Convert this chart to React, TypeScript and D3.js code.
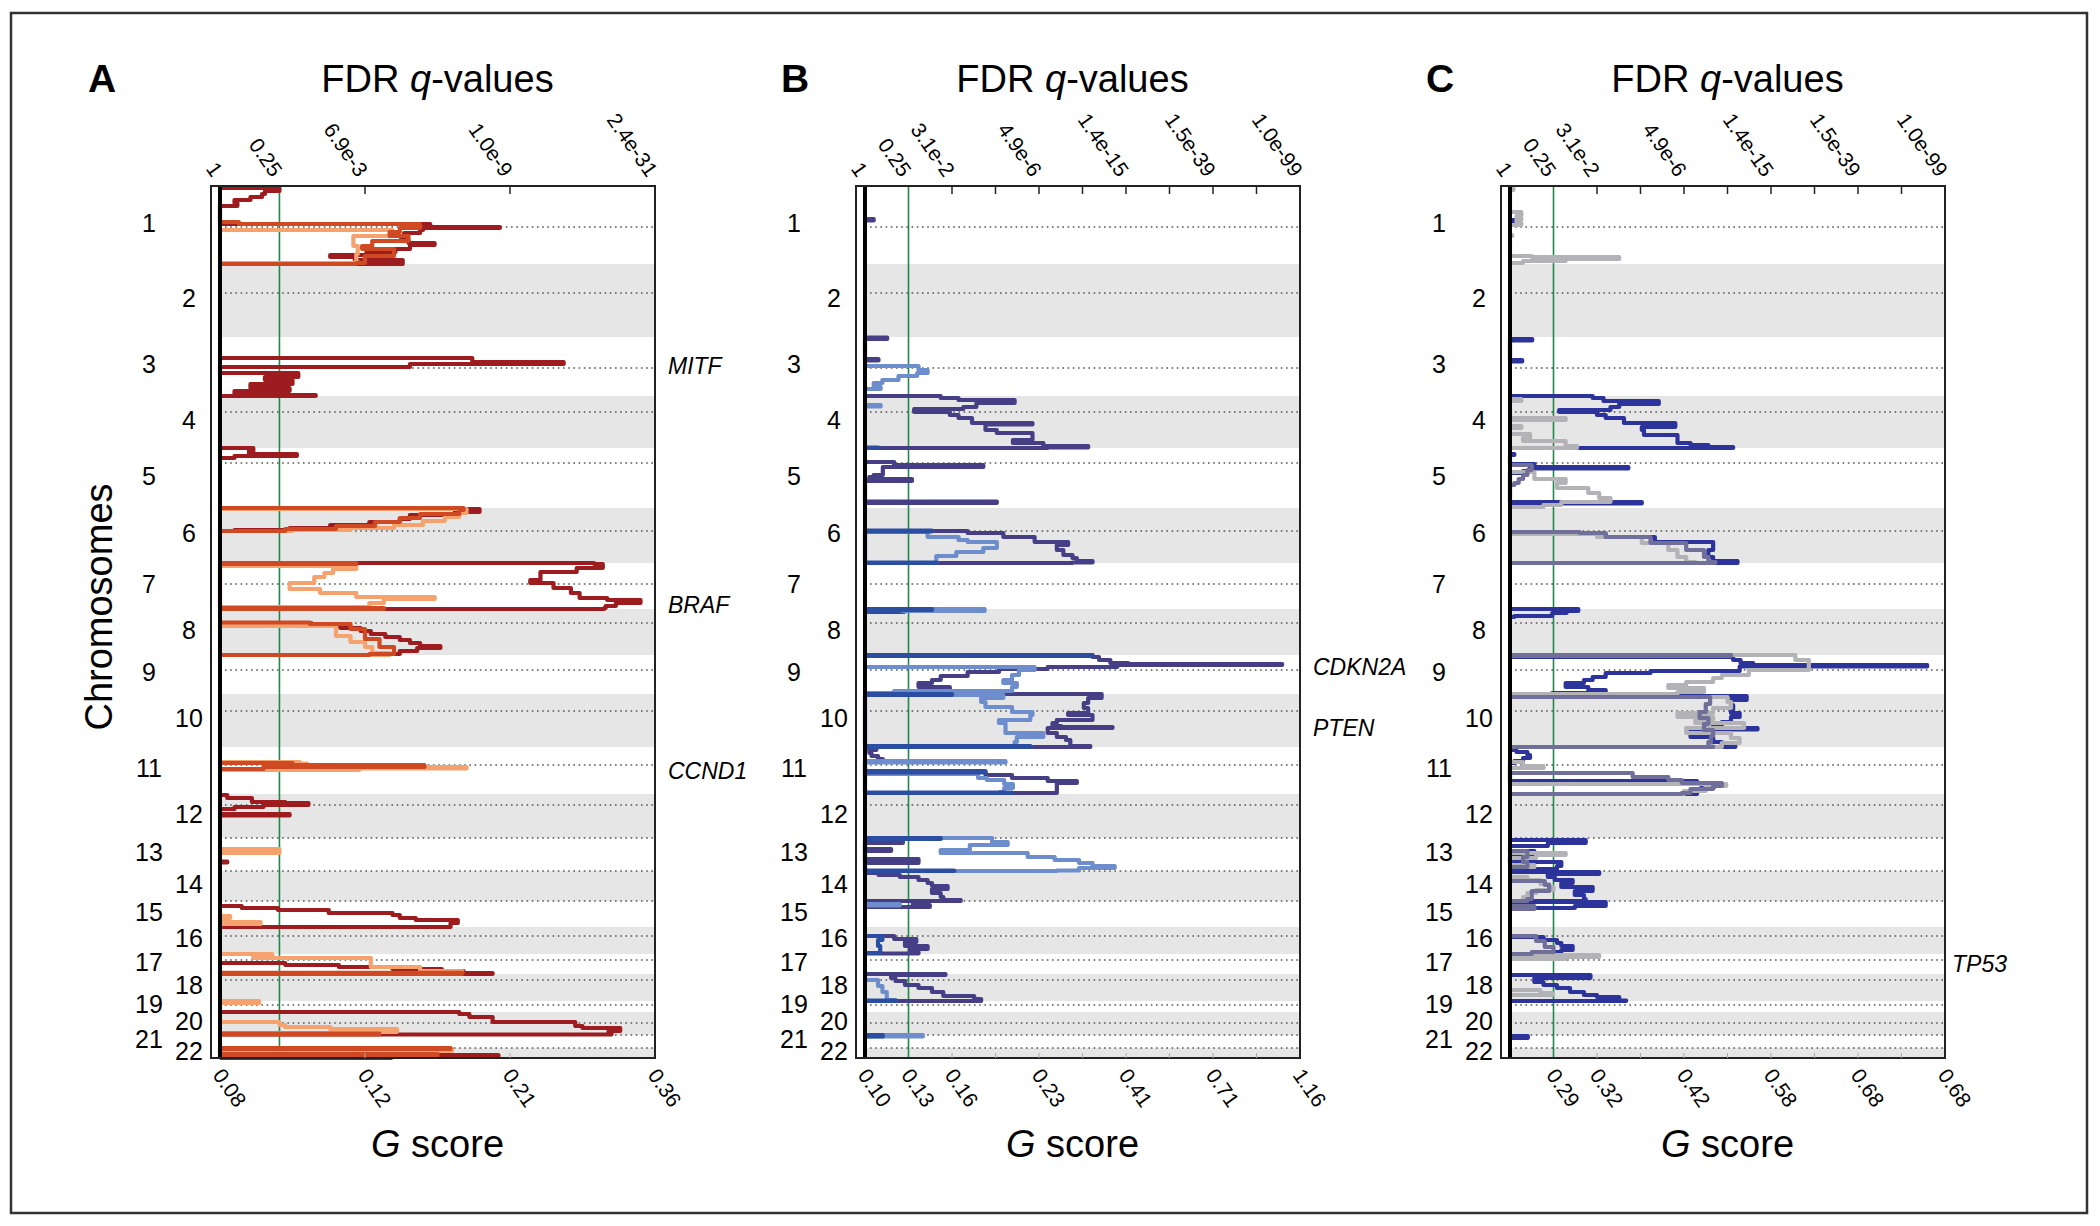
import React from 'react';
import * as d3 from 'd3';

// chromosome extents as laid out on the genome axis (relative units)
const chromosomes = d3.range(1, 23).map(String);
const chrSize = [78, 73, 59, 52, 60, 55, 46, 46, 39, 53, 47, 44, 33, 30, 26, 27, 20, 27, 11, 23, 13, 10];
const centromere = [41, 29, 31, 16, 15, 23, 21, 14, 15, 17, 18, 11, 0, 0, 0, 9, 6, 6, 4, 11, 0, 0];

type Seg = [number, [number, number][]];

// ---- panel A (scores in axis slots 0..3) ----
const aQPos = [0, 0.41, 1, 2, 3];
const aQLabels = ['1', '0.25', '6.9e-3', '1.0e-9', '2.4e-31'];
const aGPos = [0, 1, 2, 3];
const aGLabels = ['0.08', '0.12', '0.21', '0.36'];
const aGenes: [string, number, number][] = [['MITF', 3, 29], ['BRAF', 7, 42], ['CCND1', 11, 24]];

const aDark: Seg[] = [
  [1, [[2, 0.41], [5, 0.31], [8, 0.29], [11, 0.21], [14, 0.1], [17, 0.12], [20, 0], [38, 1.45], [41, 1.93], [42, 1.4], [44, 1.38], [47, 1.27], [51, 1.25], [54, 1.3], [57, 1.48], [59, 1.31], [63, 1.21], [66, 1.01], [69, 0.76], [71, 0.93], [74, 1.26], [78, 0]]],
  [3, [[21, 1.74], [25, 2.37], [27, 1.31], [30, 0], [36, 0.54], [40, 0.31], [43, 0.5], [47, 0.21], [51, 0.48], [54, 0.1], [58, 0.66], [59, 0]]],
  [5, [[0, 0.23], [3, 0.2], [6, 0.53], [8, 0.1], [10, 0]]],
  [6, [[1, 1.79], [4, 1.62], [7, 1.31], [11, 1.24], [14, 1.03], [17, 0.76], [20, 0.48], [22, 0.1], [23, 0]]],
  [7, [[0, 2.58], [1, 2.64], [5, 2.46], [9, 2.21], [17, 2.14], [20, 2.3], [25, 2.42], [30, 2.48], [35, 2.67], [37, 2.9], [40, 2.73], [43, 2.66], [45, 2.65], [46, 0]]],
  [8, [[14, 0.63], [16, 0.83], [19, 0.97], [22, 1.04], [25, 1.14], [28, 1.24], [31, 1.31], [34, 1.38], [37, 1.52], [39, 1.36], [42, 1.24], [45, 1.14], [46, 0]]],
  [12, [[1, 0.05], [4, 0.22], [8, 0.45], [9, 0.61], [11, 0.3], [13, 0.1], [15, 0], [20, 0.48], [21.5, 0]]],
  [13, [[23.5, 0.05], [24.5, 0]]],
  [15, [[5, 0.15], [7, 0.4], [9, 0.75], [12, 1.19], [14, 1.24], [17, 1.35], [19, 1.64], [22, 1.59], [25, 1.59], [26, 0]]],
  [17, [[9, 0.45], [11, 0.82], [13, 1.19], [15, 1.53], [17, 1.68], [19, 1.88], [20, 0]]],
  [20, [[0, 1.65], [2, 1.72], [5, 1.88], [9, 1.88], [10, 2.45], [14, 2.5], [16, 2.76], [19, 2.68], [21.5, 2.7], [22.5, 0]]],
  [22, [[2, 1.3], [4, 1.5], [7, 1.92], [8.5, 1.18], [10, 0]]],
];
const aLight: Seg[] = [
  [1, [[44, 1.19], [50, 0.92], [60, 0.95], [68, 0.94], [76, 0.95], [77, 0]]],
  [6, [[1, 1.7], [5, 1.65], [9, 1.55], [13, 1.4], [17, 1.2], [20, 0.9], [22, 0.5], [23, 0]]],
  [7, [[3, 0.94], [6, 0.78], [10, 0.72], [14, 0.65], [20, 0.48], [26, 0.69], [30, 0.94], [34, 1.48], [36, 1.13], [40, 1.03], [44, 0]]],
  [8, [[17, 0.8], [27, 0.9], [33, 1.0], [38, 1.05], [44, 1.17], [46, 0]]],
  [11, [[15, 0.55], [16.5, 0.6], [20, 1.7], [21.5, 0.96], [23, 0]]],
  [13, [[11, 0.41], [15, 0]]],
  [15, [[15, 0.07], [17, 0], [21, 0.28], [23, 0]]],
  [17, [[0, 0.36], [2, 0.23], [4, 1.04], [9, 1.04], [13, 1.38], [17, 1.67], [19, 0]]],
  [19, [[0, 0.27], [2, 0]]],
  [20, [[10, 0.41], [13, 0.45], [15, 0.76], [17, 1.22], [20, 1.08], [21, 0]]],
  [22, [[1, 1.6], [3, 0]]],
];
const aMid: Seg[] = [
  [1, [[36, 0.13], [38, 1.38], [42, 1.24], [46, 1.17], [50, 1.3], [55, 1.05], [60, 0.98], [63, 1.2], [70, 1.0], [77, 0.94], [78, 0]]],
  [6, [[0, 1.68], [2, 1.65], [6, 1.38], [10, 1.24], [14, 1.07], [18, 0.8], [21, 0.45], [23, 0]]],
  [7, [[0, 0.94], [1, 0], [45, 1.13], [46, 0]]],
  [8, [[13.5, 0.62], [15, 0.9], [20, 1.0], [30, 1.1], [38, 1.2], [45, 1.03], [46, 0]]],
  [11, [[16, 0.5], [18, 1.41], [20, 0.3], [22, 0]]],
  [17, [[18.8, 1.67], [20, 0]]],
  [20, [[21.5, 1.1], [22.5, 0]]],
  [22, [[0, 1.59], [1, 0], [6, 1.5], [8, 0]]],
];

// ---- panel B (slots 0..10) ----
const bQPos = [0, 1, 2, 4, 6, 8, 10];
const bQLabels = ['1', '0.25', '3.1e-2', '4.9e-6', '1.4e-15', '1.5e-39', '1.0e-99'];
const bGPos = [0, 1, 2, 4, 6, 8, 10];
const bGLabels = ['0.10', '0.13', '0.16', '0.23', '0.41', '0.71', '1.16'];
const bGenes: [string, number, number][] = [['CDKN2A', 9, 12], ['PTEN', 10, 34]];

const bDark: Seg[] = [
  [1, [[33, 0.2], [34.5, 0]]],
  [3, [[0.5, 0.51], [2, 0], [22, 0.31], [23.5, 0]]],
  [4, [[0, 1.74], [2, 2.15], [4, 3.44], [7, 2.56], [11, 2.26], [13, 1.13], [16, 1.95], [19, 2.15], [22, 2.46], [27, 3.85], [28.5, 2.77], [34, 3.03], [37, 3.85], [41, 3.85], [44, 3.4], [47, 4.1], [50, 5.13], [51.5, 4.2], [52, 0]]],
  [5, [[14, 0.67], [17, 2.72], [19, 0.41], [24, 0.41], [27, 0.2], [29, 0.1], [31, 1.08], [33, 0], [53.5, 3.03], [55, 0]]],
  [6, [[23, 2.36], [25, 3.18], [29, 3.9], [34, 4.67], [37, 4.41], [42, 4.56], [47, 4.77], [50, 4.87], [53, 5.23], [54.5, 4.77], [55, 0]]],
  [8, [[1, 0.9], [3, 0]]],
  [9, [[0, 5.23], [2, 5.38], [5, 5.64], [8, 6.05], [9, 9.59], [10, 5.8], [12, 4.2], [14, 3.08], [17, 2.36], [21, 1.74], [25, 1.54], [28, 1.23], [32, 1.95], [36, 1.03], [38, 0]]],
  [10, [[0, 5.44], [4, 5.13], [9, 5.03], [14, 5.13], [19, 4.67], [21, 5.23], [26, 4.41], [29, 4.31], [32, 4.51], [33, 5.69], [34, 4.2], [39, 4.41], [43, 4.62], [46, 4.72], [49, 4.72], [52, 5.18], [53, 0]]],
  [11, [[1, 0.26], [3, 0.1], [6, 0.15], [9, 0.3], [12, 0.41], [14, 0], [25, 2.77], [28, 3.38], [31, 4.2], [34, 4.87], [36, 4.41], [40, 4.41], [44, 4.41], [46, 0]]],
  [13, [[2, 0.87], [5, 0], [11, 0.6], [13, 0], [21, 1.23], [25, 0]]],
  [14, [[2, 0.31], [4, 0.8], [6, 1.23], [9, 1.44], [12, 1.54], [15, 1.9], [18, 1.54], [22, 1.74], [26, 1.8], [29, 2.2], [30, 0]]],
  [15, [[0, 1.3], [2, 1.1], [4, 1.49], [6, 0]]],
  [16, [[9, 0.67], [12, 1.18], [15, 0.92], [19, 1.44], [22, 1.03], [25, 1.23], [26.5, 0]]],
  [18, [[0, 1.85], [1, 0.6], [4, 0.7], [7, 0.92], [11, 1.23], [14, 1.54], [18, 1.8], [22, 2.51], [25, 2.67], [27, 0]]],
];
const bLight: Seg[] = [
  [3, [[29, 1.23], [33, 1.44], [36, 1.2], [39, 0.77], [43, 0.4], [46, 0.2], [50, 0.36], [52, 0]]],
  [4, [[9, 0.36], [10.5, 0]]],
  [6, [[24, 1.44], [29, 2.15], [32, 2.36], [34, 3.03], [40, 2.72], [44, 2.1], [48, 1.64], [55, 0]]],
  [8, [[0, 2.75], [2, 0]]],
  [9, [[12, 3.9], [15, 3.54], [20, 3.38], [25, 3.18], [28, 3.49], [32, 3.38], [36, 0.67], [38, 0]]],
  [10, [[1, 3.18], [4, 2.67], [8, 2.77], [13, 3.38], [18, 3.85], [21, 3.8], [26, 3.08], [29, 3.23], [34, 3.23], [39, 4.1], [43, 3.49], [48, 3.44], [52, 3.8], [53, 0]]],
  [11, [[14, 3.23], [15.5, 0], [27, 2.6], [31, 2.8], [33, 3.2], [37, 3.4], [41, 3.2], [45, 3.1], [46, 0]]],
  [13, [[0, 2.92], [4, 3.28], [7, 2.41], [12, 1.74], [15, 3.74], [19, 4.36], [22, 4.92], [25, 5.23], [28, 5.74], [30, 4.92], [32.5, 4.41], [33, 0]]],
  [15, [[3, 0.8], [4.5, 0]]],
  [18, [[6, 0.3], [12, 0.4], [18, 0.5], [26, 0.7], [27, 0]]],
  [21, [[0, 1.33], [1.5, 0]]],
];
const bMid: Seg[] = [
  [4, [[51.5, 0.31], [52, 0]]],
  [6, [[22.5, 1.54], [23.5, 0], [54.5, 1.64], [55, 0]]],
  [8, [[0, 1.54], [1, 0.8], [2, 0.3], [3, 0]]],
  [9, [[0, 5.23], [1, 0]]],
  [10, [[0, 2.0], [1, 0], [52, 3.8], [53, 0]]],
  [11, [[24, 2.77], [25.5, 0], [45.5, 3.38], [46, 0]]],
  [13, [[0, 1.74], [1, 0], [32.5, 2.05], [33, 0]]],
  [16, [[9, 0.4], [13, 0.3], [19, 0.35], [26, 0]]],
  [18, [[26.5, 0.72], [27, 0]]],
  [21, [[0, 0.41], [1.5, 0]]],
];

// ---- panel C (slots 0..10) ----
const cQPos = [0, 1, 2, 4, 6, 8, 10];
const cQLabels = ['1', '0.25', '3.1e-2', '4.9e-6', '1.4e-15', '1.5e-39', '1.0e-99'];
const cGPos = [1, 2, 4, 6, 8, 10];
const cGLabels = ['0.29', '0.32', '0.42', '0.58', '0.68', '0.68'];
const cGenes: [string, number, number][] = [['TP53', 17, 10]];

const cBlue: Seg[] = [
  [1, [[34, 0.18], [35, 0]]],
  [3, [[2, 0.51], [3.5, 0], [23, 0.28], [24.5, 0]]],
  [4, [[0, 1.9], [2, 2.15], [5, 3.42], [8, 2.51], [11, 2.31], [14, 1.13], [16, 2.0], [19, 2.2], [22, 2.62], [27, 3.8], [31, 3.03], [34, 3.08], [39, 3.85], [44, 3.85], [47, 4.15], [49, 4.56], [51, 5.13], [52, 0]]],
  [5, [[6, 0.1], [7, 0], [16, 0.56], [19, 2.72], [20.5, 0.45], [23, 0.3], [25, 0], [54, 3.03], [55.5, 0]]],
  [6, [[26, 2.2], [29, 3.33], [34, 4.67], [42, 4.56], [49, 4.67], [53, 5.23], [55, 0]]],
  [8, [[0, 1.57], [2, 1.3], [4, 0.97], [7, 0.1], [8, 0]]],
  [9, [[2, 5.13], [5, 5.3], [8, 5.59], [10, 9.59], [11.5, 5.28], [16, 3.23], [18, 2.2], [22, 1.9], [25, 1.7], [28, 1.28], [32, 1.8], [35, 2.2], [38, 0.97], [39, 0]]],
  [10, [[2, 5.44], [6, 5.08], [11, 5.13], [16, 5.08], [19, 5.28], [23, 5.08], [28, 4.87], [31, 4.67], [34, 5.69], [35.5, 4.15], [43, 4.67], [48, 4.87], [52, 5.18], [53, 0]]],
  [11, [[3, 0.15], [5, 0.4], [8, 0.46], [11, 0.3], [14, 0.1], [16, 0], [34, 4.3], [37, 4.7], [40, 4.4], [44, 4.3], [47, 0]]],
  [13, [[2, 1.74], [5, 0.87], [8, 0], [13, 0.56], [16, 0.3], [19, 0], [24, 1.18], [28, 1.08], [31, 0.3], [33, 0]]],
  [14, [[1, 2.05], [3, 0.87], [6, 1.03], [9, 1.44], [12, 1.18], [16, 1.9], [20, 1.49], [24, 1.7], [28, 1.74], [30, 0]]],
  [15, [[1, 2.2], [5, 1.49], [7, 0]]],
  [16, [[10, 0.77], [13, 1.08], [16, 1.18], [19, 1.44], [23, 1.18], [25, 0.87], [27, 0]]],
  [18, [[1, 1.85], [4, 0.56], [8, 0.77], [11, 1.08], [14, 1.38], [18, 1.7], [21, 2.0], [23, 2.51], [25, 2.31], [26.5, 2.67], [27, 0]]],
  [21, [[1, 0.41], [3, 0]]],
];
const cGrey: Seg[] = [
  [1, [[2, 0.08], [4, 0], [26, 0.26], [30, 0.15], [32, 0.26], [34, 0.15], [37, 0.26], [39, 0], [49, 0.05], [50, 0], [70, 0.5], [71, 2.51], [73, 1.28], [75, 0.3], [77, 0]]],
  [4, [[3, 0.26], [5, 0], [22, 1.28], [24, 0], [30, 0.26], [32, 0], [38, 0.46], [42, 0.3], [45, 1.28], [50, 1.54], [52, 0]]],
  [5, [[24, 0.56], [31, 1.28], [35, 1.08], [40, 1.8], [45, 2.05], [50, 2.31], [54, 1.18], [57, 0.77], [59, 0]]],
  [6, [[26, 2.0], [29, 3.03], [35, 3.64], [42, 3.85], [49, 4.05], [54, 4.26], [55, 0]]],
  [9, [[0, 6.56], [2, 6.56], [5, 6.87], [11, 6.87], [15, 5.49], [20, 4.87], [23, 4.67], [27, 4.05], [30, 3.64], [33, 4.46], [37, 3.85], [39, 0]]],
  [10, [[3, 5.0], [8, 5.08], [14, 4.67], [19, 3.85], [23, 4.67], [26, 4.26], [29, 5.38], [34, 4.05], [39, 5.08], [44, 5.28], [49, 4.87], [53, 0]]],
  [11, [[15, 0.3], [19, 0.77], [21, 0], [37, 4.97], [39, 4.5], [44, 4.0], [47, 0]]],
  [13, [[15, 1.28], [17, 0.6], [20, 0], [27, 0.56], [29, 0]]],
  [14, [[6, 0.4], [9, 0.7], [13, 0.9], [16, 1.0], [19, 0.6], [22, 0.4], [26, 0.3], [30, 0]]],
  [17, [[1, 2.05], [3, 1.28], [5, 0]]],
  [18, [[16, 0.7], [19, 0.97], [21, 0]]],
];
const cSlate: Seg[] = [
  [5, [[17, 0.5], [22, 0.4], [27, 0.3], [31, 0.2], [35, 0.1], [37, 0]]],
  [6, [[24, 1.6], [25, 2.2], [29, 3.23], [35, 4.05], [42, 4.46], [49, 4.56], [54, 4.72], [55, 0]]],
  [9, [[0, 5.08], [1, 0]]],
  [10, [[3, 4.6], [10, 4.5], [18, 4.36], [24, 4.56], [30, 4.46], [36, 4.67], [42, 4.62], [48, 4.56], [52.5, 4.67], [53, 0]]],
  [11, [[26, 2.82], [30, 3.64], [33, 3.95], [36, 4.87], [39, 4.67], [42, 4.15], [46, 3.95], [47, 0]]],
  [13, [[13, 0.4], [19, 0.3], [24, 0.4], [29, 0]]],
  [14, [[10, 0.8], [14, 0.9], [20, 0.5], [28, 0.4], [30, 0]]],
  [15, [[5, 0.56], [8, 0]]],
  [16, [[9, 0.6], [14, 0.8], [20, 1.0], [25, 0.5], [27, 0]]],
];

const panels = [
  { letter: 'A', letterDx: -118, titleDx: 0, geneDx: 13, max: 3, threshold: 0.41, qPos: aQPos, qLabels: aQLabels, gPos: aGPos, gLabels: aGLabels, genes: aGenes,
    series: [{ data: aDark, color: '#9c1c1f' }, { data: aLight, color: '#f5a26e' }, { data: aMid, color: '#cf4a22' }] },
  { letter: 'B', letterDx: -70, titleDx: -10, geneDx: 13, max: 10, threshold: 1, qPos: bQPos, qLabels: bQLabels, gPos: bGPos, gLabels: bGLabels, genes: bGenes,
    series: [{ data: bDark, color: '#463f86' }, { data: bLight, color: '#6e8dcc' }, { data: bMid, color: '#2b4ea3' }] },
  { letter: 'C', letterDx: -70, titleDx: 0, geneDx: 7, max: 10, threshold: 1, qPos: cQPos, qLabels: cQLabels, gPos: cGPos, gLabels: cGLabels, genes: cGenes,
    series: [{ data: cBlue, color: '#2c349c' }, { data: cGrey, color: '#b3b3b7' }, { data: cSlate, color: '#6f6f99' }] },
];

const width = 2100;
const height = 1226;
const plotTop = 186;
const plotBottom = 1058;
const plotW = 435;
const firstBase = 220;
const panelStep = 645;
const font = 'Liberation Sans, Arial, sans-serif';

const chrStart = chrSize.map((_, i) => d3.sum(chrSize.slice(0, i)));
const y = d3.scaleLinear().domain([0, d3.sum(chrSize)]).range([plotTop, plotBottom]);

function Panel({ p, idx }: { p: typeof panels[number]; idx: number }) {
  const base = firstBase + idx * panelStep;
  const x = d3.scaleLinear().domain([0, p.max]).range([base, base + plotW]);
  const right = x(p.max);
  const mid = (base + right) / 2 + p.titleDx;
  const tickMarks = d3.range(1, p.max).filter(v => v !== p.threshold);

  const pathFor = (chr: number, pts: [number, number][]) => {
    const s = chrStart[chr - 1];
    const line = d3.line<[number, number]>()
      .x(d => x(d[1]))
      .y(d => y(s + d[0]))
      .curve(d3.curveStepBefore);
    return line([[pts[0][0], 0], ...pts]) || '';
  };

  return (
    <g>
      {chromosomes.map((c, i) => i % 2 === 1 ? (
        <rect key={'band' + c} x={base + 2} y={y(chrStart[i])} width={right - base - 2}
          height={y(chrStart[i] + chrSize[i]) - y(chrStart[i])} fill="#e6e6e6" />
      ) : null)}
      {chromosomes.map((c, i) => (
        <line key={'cen' + c} x1={base + 5} x2={right - 2}
          y1={y(chrStart[i] + centromere[i])} y2={y(chrStart[i] + centromere[i])}
          stroke="#555" strokeWidth={1.4} strokeDasharray="1.6,3.6" />
      ))}
      <line x1={x(p.threshold)} x2={x(p.threshold)} y1={plotTop} y2={plotBottom} stroke="#21884a" strokeWidth={1.6} />
      {p.series.map((s, si) => (
        <g key={si}>
          {s.data.map(([chr, pts], k) => (
            <path key={k} d={pathFor(chr, pts)} fill="none" stroke={s.color} strokeWidth={4.2} strokeLinejoin="round" />
          ))}
        </g>
      ))}
      <line x1={base} x2={base} y1={plotTop} y2={plotBottom} stroke="#000" strokeWidth={4} />
      <rect x={base - 9} y={plotTop} width={right - base + 9} height={plotBottom - plotTop} fill="none" stroke="#222" strokeWidth={2} />
      {tickMarks.map(v => (
        <g key={'t' + v}>
          <line x1={x(v)} x2={x(v)} y1={plotTop} y2={plotTop + 8} stroke="#222" strokeWidth={1.5} />
          <line x1={x(v)} x2={x(v)} y1={plotBottom} y2={plotBottom - 5} stroke="#aaa" strokeWidth={1} />
        </g>
      ))}
      {p.qPos.map((v, i) => (
        <text key={'q' + i} transform={`translate(${x(v) - 2},${plotTop - 12}) rotate(55)`} textAnchor="end" dy="0.35em"
          fontSize={21} fontFamily={font}>{p.qLabels[i]}</text>
      ))}
      {p.gPos.map((v, i) => (
        <text key={'g' + i} transform={`translate(${x(v) - 2},${plotBottom + 13}) rotate(55)`} textAnchor="start" dy="0.35em"
          fontSize={21} fontFamily={font}>{p.gLabels[i]}</text>
      ))}
      {chromosomes.map((c, i) => (
        <text key={'lab' + c} x={base + (i % 2 === 0 ? -71 : -31)} y={y(chrStart[i] + chrSize[i] / 2) - 2}
          dy="0.35em" textAnchor="middle" fontSize={25} fontFamily={font}>{c}</text>
      ))}
      {p.genes.map(([g, chr, pos]) => (
        <text key={g} x={right + p.geneDx} y={y(chrStart[chr - 1] + pos)} dy="0.35em" fontSize={23}
          fontStyle="italic" fontFamily={font}>{g}</text>
      ))}
      <text x={base + p.letterDx} y={92} textAnchor="middle" fontSize={39} fontWeight="bold" fontFamily={font}>{p.letter}</text>
      <text x={mid} y={92} textAnchor="middle" fontSize={38} fontFamily={font}>
        FDR <tspan fontStyle="italic">q</tspan>-values
      </text>
      <text x={mid} y={1157} textAnchor="middle" fontSize={38} fontFamily={font}>
        <tspan fontStyle="italic">G</tspan> score
      </text>
    </g>
  );
}

export default function App() {
  return (
    <svg width={width} height={height} style={{ position: 'absolute', left: 0, top: 0, background: '#fff' }}>
      <rect x={0} y={0} width={width} height={height} fill="#fff" />
      <rect x={11} y={13} width={2076} height={1200} fill="none" stroke="#333" strokeWidth={2.5} />
      <text transform="translate(112,607) rotate(-90)" textAnchor="middle" fontSize={38} fontFamily={font}>Chromosomes</text>
      {panels.map((p, i) => <Panel key={p.letter} p={p} idx={i} />)}
    </svg>
  );
}
